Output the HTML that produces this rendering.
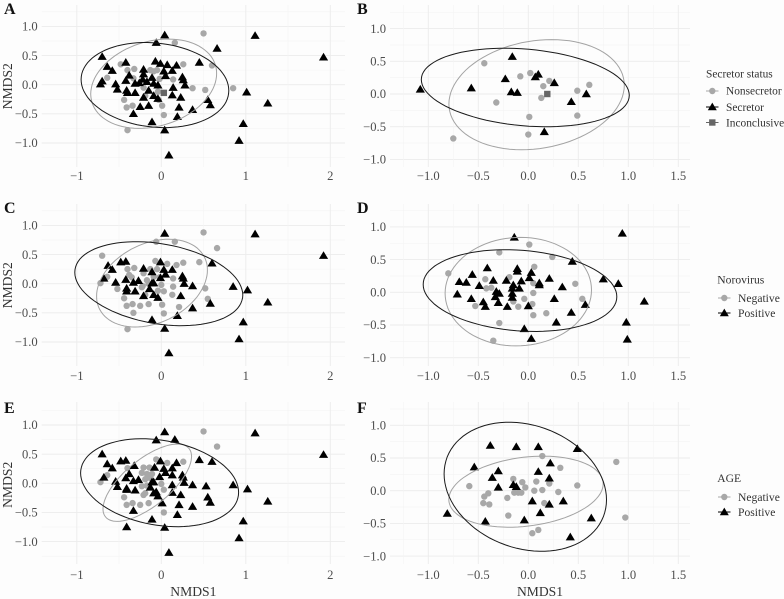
<!DOCTYPE html>
<html>
<head>
<meta charset="utf-8">
<title>NMDS ordination panels</title>
<style>
html,body{margin:0;padding:0;background:#fdfdfd;}
#chart{display:block;width:784px;height:599px;font-family:"Liberation Serif",serif;}
</style>
</head>
<body>
<svg id="chart" xmlns="http://www.w3.org/2000/svg" width="784" height="599" viewBox="0 0 784 599">
<rect x="0" y="0" width="784" height="599" fill="#fdfdfd"/>
<g id="panels"></g>

<g font-size="11.4" fill="#333">
  <text x="706" y="77.5">Secretor status</text>
  <g>
    <line x1="706" x2="718.5" y1="91" y2="91" stroke="#a8a8a8" stroke-width="1"/>
    <circle cx="712.3" cy="91" r="3.2" fill="#a8a8a8"/>
    <text x="726" y="94.5">Nonsecretor</text>
  </g>
  <g>
    <line x1="706" x2="718.5" y1="107" y2="107" stroke="#000" stroke-width="1"/>
    <polygon points="712.3,102.6 716.8,110.2 707.8,110.2" fill="#000"/>
    <text x="726" y="111">Secretor</text>
  </g>
  <g>
    <line x1="706" x2="718.5" y1="122.5" y2="122.5" stroke="#666" stroke-width="1"/>
    <rect x="709.1" y="119.3" width="6.4" height="6.4" fill="#666"/>
    <text x="726" y="126.5">Inconclusive</text>
  </g>
</g>

<g font-size="11.6" fill="#333">
  <text x="717.3" y="283.5">Norovirus</text>
  <g>
    <line x1="718" x2="730.5" y1="298" y2="298" stroke="#a8a8a8" stroke-width="1"/>
    <circle cx="724.3" cy="298" r="3.2" fill="#a8a8a8"/>
    <text x="738" y="302">Negative</text>
  </g>
  <g>
    <line x1="718" x2="730.5" y1="313" y2="313" stroke="#000" stroke-width="1"/>
    <polygon points="724.3,308.6 728.8,316.2 719.8,316.2" fill="#000"/>
    <text x="738" y="317">Positive</text>
  </g>
</g>

<g font-size="11.6" fill="#333">
  <text x="717.3" y="482">AGE</text>
  <g>
    <line x1="718" x2="730.5" y1="497" y2="497" stroke="#a8a8a8" stroke-width="1"/>
    <circle cx="724.3" cy="497" r="3.2" fill="#a8a8a8"/>
    <text x="738" y="501">Negative</text>
  </g>
  <g>
    <line x1="718" x2="730.5" y1="512" y2="512" stroke="#000" stroke-width="1"/>
    <polygon points="724.3,507.6 728.8,515.2 719.8,515.2" fill="#000"/>
    <text x="738" y="516">Positive</text>
  </g>
</g>
</svg>

<script>
// ---- tick labels ----
const wideXTicks = [-1, 0, 1, 2];
const narrowXTicks = [-1, -0.5, 0, 0.5, 1, 1.5];
const yTicks = [-1, -0.5, 0, 0.5, 1];

// ---- panel A (secretor status) ----
const panelATriangles = [[.04,.85],[1.11,.84],[.66,.62],[-.06,.72],[1.92,.47],[-.70,.48],[-.64,.31],[-.58,.24],[-.42,.38],[-.07,.40],[-.01,.36],[.07,.34],[.18,.33],[.45,.38],[-.21,.26],[.03,.23],[.13,.24],[-.70,.06],[-.72,.01],[-.54,.01],[-.52,-.08],[-.42,.07],[-.38,.16],[-.41,-.10],[-.40,-.14],[-.31,-.14],[-.31,.02],[-.26,.03],[-.21,.18],[-.22,.09],[-.17,.05],[-.11,.12],[-.09,.02],[-.04,-.01],[-.15,-.10],[-.09,-.19],[-.21,-.22],[-.04,-.24],[.14,-.05],[.13,-.18],[.23,-.22],[.25,.13],[.26,.08],[.28,-.01],[.05,.15],[1.01,-.13],[1.26,-.32],[.97,-.67],[.92,-.96],[.09,-1.21],[.04,-.78],[-.11,-.64],[.19,-.55],[.37,-.43],[.21,-.39],[.55,-.26],[.58,-.35],[-.25,-.38],[-.15,-.36],[-.33,-.50]];
const panelACircles = [[.50,.88],[.16,.72],[-.48,.35],[.26,.35],[.60,.33],[-.40,.25],[-.32,.27],[-.13,.25],[-.09,.23],[-.05,.25],[-.64,.12],[-.33,.11],[-.02,.10],[.14,.09],[-.21,-.05],[.37,-.06],[.52,-.09],[.85,-.06],[-.44,-.26],[-.19,-.19],[-.04,-.12],[-.03,-.26],[-.41,-.39],[-.34,-.36],[.01,-.36],[.03,-.52],[-.40,-.78]];
const panelASquares = [[.03,-.14]];
const panelAEllipseBlack = {cx:-.075, cy:-.006, sx:.874, sy:.73, r:-.13};
const panelAEllipseGray = {cx:-.09, cy:.017, sx:.745, sy:.766, r:.23};

// ---- panel B (secretor status) ----
const panelBTriangles = [[-.16,.57],[-1.08,.07],[-.57,.09],[-.23,.23],[-.17,.03],[-.11,.02],[.10,.30],[.07,.26],[.26,.17],[.43,-.12],[.58,0],[.16,-.58]];
const panelBCircles = [[-.44,.47],[-.08,.27],[.02,.32],[.21,.20],[.15,.12],[.13,-.06],[.49,.05],[.61,.14],[-.32,-.13],[.01,-.35],[.49,-.33],[0,-.62],[-.75,-.68]];
const panelBSquares = [[.19,0]];
const panelBEllipseBlack = {cx:-.03, cy:.10, sx:1.04, sy:.60, r:-.2};
const panelBEllipseGray = {cx:.083, cy:-.01, sx:.877, sy:.842, r:.17};

// ---- panel C (norovirus) ----
const panelCTriangles = [[.04,.86],[1.11,.85],[1.92,.48],[-.01,.37],[.60,.35],[-.63,.31],[-.58,.24],[-.48,.37],[-.42,.38],[-.21,.26],[-.11,.20],[.03,.24],[.13,.24],[-.68,.09],[-.54,.02],[-.42,.07],[-.33,.02],[-.27,.05],[-.41,-.08],[-.41,-.13],[-.31,-.13],[-.14,-.09],[-.09,.01],[-.11,.01],[-.01,.10],[.05,.16],[.25,.13],[.26,.09],[.27,0],[.37,-.04],[.85,-.05],[1.02,-.11],[1.26,-.32],[.97,-.66],[.92,-.95],[.09,-1.19],[.04,-.77],[-.11,-.62],[.19,-.55],[.37,-.42],[.58,-.34],[.23,-.21],[-.21,-.21],[-.09,-.19],[-.04,-.24]];
const panelCCircles = [[.50,.88],[.66,.61],[.16,.72],[-.06,.72],[-.70,.48],[.45,.37],[.26,.36],[.18,.32],[.07,.34],[-.07,.39],[-.32,.27],[-.40,.25],[-.64,.12],[-.72,.01],[-.52,-.09],[-.44,-.25],[-.41,-.38],[-.34,-.35],[-.25,-.38],[-.15,-.35],[-.33,-.50],[-.40,-.78],[.01,-.36],[.03,-.51],[.21,-.40],[.55,-.26],[.52,-.08],[.14,.09],[.03,-.13],[0,-.02],[.14,-.05],[.13,-.19],[-.21,.18],[-.17,.06],[-.23,-.06],[-.19,-.19],[-.13,.25],[-.05,.25],[-.02,.11],[-.22,-.04],[-.35,.11],[-.38,.15],[-.04,-.12],[-.15,0],[-.09,.12]];
const panelCEllipseBlack = {cx:-.03, cy:0, sx:.994, sy:.72, r:-.27};
const panelCEllipseGray = {cx:-.11, cy:.01, sx:.656, sy:.753, r:.3};

// ---- panel D (norovirus) ----
const panelDTriangles = [[-.14,.84],[.94,.90],[.44,.47],[-.41,.37],[-.56,.27],[-.69,.16],[-.62,.15],[-.49,.10],[-.71,-.03],[-.57,-.10],[-.45,-.15],[-.43,-.22],[-.35,.18],[-.32,.01],[-.29,-.02],[-.33,-.07],[-.30,-.16],[-.21,-.22],[-.22,.18],[-.11,.36],[-.11,.32],[-.15,.11],[-.16,.06],[-.07,.17],[-.09,.06],[-.16,-.02],[-.16,-.08],[.01,.22],[.03,.30],[.11,.14],[.11,.11],[.21,.21],[.34,.08],[.26,-.10],[0,-.21],[.43,-.31],[.28,-.46],[-.04,-.56],[.03,-.71],[.57,-.19],[.75,.20],[.90,.13],[1.16,-.14],[.98,-.46],[.99,-.72]];
const panelDCircles = [[.01,.73],[-.29,.61],[.24,.54],[.06,.39],[-.80,.29],[-.43,.20],[-.19,.23],[.05,.14],[-.42,.06],[-.37,.07],[.47,.13],[.05,-.01],[-.04,-.10],[.54,-.10],[-.53,-.21],[-.15,-.14],[-.10,-.22],[.04,-.18],[.05,-.35],[.18,-.32],[-.29,-.47],[-.35,-.74]];
const panelDEllipseBlack = {cx:-.083, cy:.026, sx:.968, sy:.625, r:-.15};
const panelDEllipseGray = {cx:-.10, cy:.01, sx:.732, sy:.83, r:.03};

// ---- panel E (age) ----
const panelETriangles = [[.04,.88],[1.11,.86],[1.92,.49],[-.06,.74],[.16,.75],[-.70,.50],[-.64,.33],[-.58,.26],[-.48,.38],[-.42,.39],[-.32,.30],[-.08,.27],[-.01,.38],[.18,.35],[.45,.40],[.60,.37],[.03,.25],[.13,.26],[-.68,.10],[-.54,.03],[-.52,-.06],[-.42,.09],[-.38,.16],[-.33,.04],[-.27,.06],[-.41,-.09],[-.41,-.11],[-.31,-.12],[-.13,-.07],[-.09,.02],[-.11,.02],[-.06,-.15],[-.02,.11],[.05,.18],[.13,.14],[.25,.14],[.26,.10],[.27,.01],[.13,-.03],[.13,-.16],[.23,-.20],[.37,-.03],[.53,-.05],[.85,-.03],[1.02,-.10],[.55,-.24],[.58,-.33],[1.26,-.31],[.97,-.65],[.92,-.94],[.09,-1.19],[.04,-.76],[-.41,-.75],[-.11,-.62],[.19,-.54],[.37,-.40],[.21,-.37],[.01,-.34],[-.33,-.47],[-.04,-.22],[-.09,-.17]];
const panelECircles = [[.50,.89],[.66,.63],[-.06,.41],[.07,.35],[.26,.37],[-.40,.26],[-.21,.27],[-.14,.27],[-.64,.14],[-.72,.02],[-.17,.16],[-.23,.18],[-.11,.16],[-.19,.07],[-.13,.09],[-.23,-.05],[-.17,-.04],[0,-.01],[.03,-.11],[-.21,-.20],[-.19,-.17],[-.15,-.34],[-.25,-.37],[-.34,-.34],[-.41,-.37],[-.44,-.24],[.03,-.50]];
const panelEEllipseBlack = {cx:-.02, cy:.01, sx:.935, sy:.754, r:-.22};
const panelEEllipseGray = {cx:-.166, cy:.01, sx:.524, sy:.663, r:.68};

// ---- panel F (age) ----
const panelFTriangles = [[-.38,.69],[-.12,.67],[.10,.67],[.49,.64],[-.54,.36],[-.30,.30],[.22,.42],[.10,.29],[-.36,.20],[.21,.19],[-.30,.05],[-.15,.09],[-.12,.06],[.04,-.16],[.35,-.16],[.21,-.21],[.12,-.34],[-.04,-.45],[-.43,-.47],[-.81,-.35],[.63,-.42],[.42,-.71]];
const panelFCircles = [[.14,.53],[.32,.35],[.88,.44],[-.15,.18],[-.06,.13],[.08,.14],[.21,.11],[-.59,.07],[.49,.08],[-.03,.05],[-.40,-.04],[-.44,-.09],[-.14,-.03],[-.10,-.03],[-.07,-.03],[.06,0],[.14,.01],[.30,-.02],[-.21,-.11],[-.45,-.19],[-.39,-.21],[.16,-.19],[-.20,-.38],[.10,-.60],[.04,-.65],[.97,-.41]];
const panelFEllipseBlack = {cx:-.03, cy:.06, sx:.812, sy:.987, r:-.2};
const panelFEllipseGray = {cx:-.023, cy:-.015, sx:.772, sy:.543, r:.22};

const NS = 'http://www.w3.org/2000/svg';
const root = document.getElementById('panels');

function make(tag, attrs, parent) {
  const el = document.createElementNS(NS, tag);
  for (const k in attrs) el.setAttribute(k, attrs[k]);
  parent.appendChild(el);
  return el;
}
function fmtWide(v) { return (v < 0 ? '\u2212' : '') + Math.abs(v); }
function fmtDec(v) { return (v < 0 ? '\u2212' : '') + Math.abs(v).toFixed(1); }

function drawPanel(cfg) {
  const g = make('g', {}, root);
  
  

  const sx = v => cfg.x0 + v * cfg.xUnit;
  const sy = v => cfg.y0 - v * cfg.yUnit;

  // grid: lines every quarter of the major step
  const grid = make('g', {fill: 'none'}, g);
  
  
  const ySteps = [];
  for (let i = -5; i <= 5; i++) ySteps.push(i);
  ySteps.forEach(i => {
    const py = sy(i * 0.25);
    if (py < cfg.top || py > cfg.bottom) return;
    const major = i % 2 === 0;
    make('line', {x1: cfg.left, x2: cfg.right, y1: py, y2: py, stroke: major ? '#ececec' : '#f4f4f4', 'stroke-width': major ? 0.9 : 0.6}, grid);
  });
  const xStep = cfg.xStep;
  for (let i = -8; i <= 12; i++) {
    const px = sx(i * xStep / 2);
    if (px < cfg.left || px > cfg.right) continue;
    const major = i % 2 === 0;
    make('line', {x1: px, x2: px, y1: cfg.top, y2: cfg.bottom, stroke: major ? '#ececec' : '#f4f4f4', 'stroke-width': major ? 0.9 : 0.6}, grid);
  }

  // tick labels
  const ticks = make('g', {'font-size': 12.6, fill: '#4d4d4d'}, g);
  
  
  cfg.xTicks.forEach(v => {
    const t = make('text', {x: sx(v), y: cfg.tickBase, 'text-anchor': 'middle'}, ticks);
    t.textContent = cfg.xFmt(v);
    
    
  });
  yTicks.forEach(v => {
    const t = make('text', {x: cfg.left - 4, y: sy(v) + 4.2, 'text-anchor': 'end'}, ticks);
    t.textContent = fmtDec(v);
    
    
  });

  // points
  const marks = make('g', {}, g);
  
  
  cfg.circles.forEach(p => {
    const c = make('circle', {cx: sx(p[0]), cy: sy(p[1]), r: 3.2, fill: '#a8a8a8'}, marks);
    
    
  });
  cfg.triangles.forEach(p => {
    const px = sx(p[0]), py = sy(p[1]);
    const t = make('polygon', {points: [px, py - 4.5, px + 4.6, py + 3.2, px - 4.6, py + 3.2].join(','), fill: '#000'}, marks);
    
    
  });
  (cfg.squares || []).forEach(p => {
    const s = make('rect', {x: sx(p[0]) - 3.2, y: sy(p[1]) - 3.2, width: 6.4, height: 6.4, fill: '#666'}, marks);
    
    
  });

  // ellipses
  function ellipse(e, color, name) {
    const pts = [];
    const q = Math.sqrt(1 - e.r * e.r);
    for (let a = 0; a < 360; a += 4) {
      const t = a * Math.PI / 180;
      const dx = e.cx + e.sx * Math.cos(t);
      const dy = e.cy + e.sy * (e.r * Math.cos(t) + q * Math.sin(t));
      pts.push(sx(dx).toFixed(1) + ',' + sy(dy).toFixed(1));
    }
    const el = make('polygon', {points: pts.join(' '), fill: 'none', stroke: color, 'stroke-width': 1}, g);
    
    
  }
  ellipse(cfg.gray, '#a3a3a3', 'ellipse-gray');
  ellipse(cfg.black, '#1a1a1a', 'ellipse-black');

  // letter
  const l = make('text', {x: cfg.letterX, y: cfg.letterY, 'font-size': 16, 'font-weight': 'bold', fill: '#111'}, g);
  l.textContent = cfg.letter;
  
  

  // axis titles
  if (cfg.yTitle) {
    const cy = sy(0) + 1.5;
    const t = make('text', {x: 0, y: 0, 'font-size': 13.6, fill: '#333', 'text-anchor': 'middle', transform: 'translate(12,' + cy + ') rotate(-90)'}, g);
    t.textContent = 'NMDS2';
    
    
  }
  if (cfg.xTitle) {
    const t = make('text', {x: (cfg.left + cfg.right) / 2, y: 596, 'font-size': 13.6, fill: '#333', 'text-anchor': 'middle'}, g);
    t.textContent = 'NMDS1';
    
    
  }
}

const leftCol = {x0: 161.3, xUnit: 84.5, left: 41.7, right: 345, xStep: 1, xTicks: wideXTicks, xFmt: fmtWide, letterX: 4, yUnit: 58.3};
const rightCol = {x0: 528.3, xUnit: 100, left: 390, right: 690, xStep: 0.5, xTicks: narrowXTicks, xFmt: fmtDec, letterX: 357, yUnit: 65.4};

drawPanel(Object.assign({}, leftCol, {letter: 'A', y0: 84.7, top: 5, bottom: 167, tickBase: 180, letterY: 14, yTitle: true, triangles: panelATriangles, circles: panelACircles, squares: panelASquares, black: panelAEllipseBlack, gray: panelAEllipseGray}));
drawPanel(Object.assign({}, rightCol, {letter: 'B', y0: 94, top: 5, bottom: 167, tickBase: 180, letterY: 14, triangles: panelBTriangles, circles: panelBCircles, squares: panelBSquares, black: panelBEllipseBlack, gray: panelBEllipseGray}));
drawPanel(Object.assign({}, leftCol, {letter: 'C', y0: 283.7, top: 204, bottom: 366, tickBase: 380, letterY: 213, yTitle: true, triangles: panelCTriangles, circles: panelCCircles, black: panelCEllipseBlack, gray: panelCEllipseGray}));
drawPanel(Object.assign({}, rightCol, {letter: 'D', y0: 292.3, top: 204, bottom: 366, tickBase: 380, letterY: 213, triangles: panelDTriangles, circles: panelDCircles, black: panelDEllipseBlack, gray: panelDEllipseGray}));
drawPanel(Object.assign({}, leftCol, {letter: 'E', y0: 483.3, top: 402, bottom: 564, tickBase: 579, letterY: 413, yTitle: true, xTitle: true, triangles: panelETriangles, circles: panelECircles, black: panelEEllipseBlack, gray: panelEEllipseGray}));
drawPanel(Object.assign({}, rightCol, {letter: 'F', y0: 490.7, top: 402, bottom: 564, tickBase: 579, letterY: 413, xTitle: true, triangles: panelFTriangles, circles: panelFCircles, black: panelFEllipseBlack, gray: panelFEllipseGray}));
</script>
</body>
</html>
